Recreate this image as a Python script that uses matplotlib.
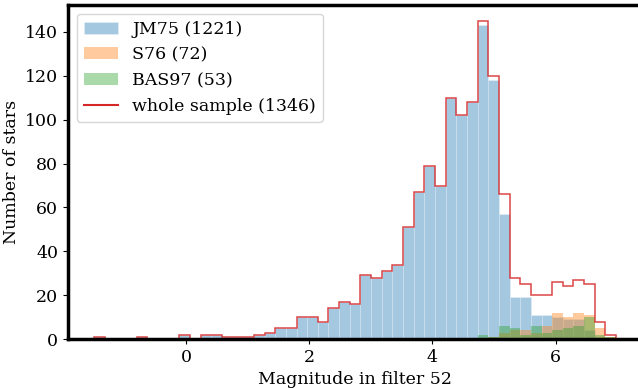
import numpy as np
import matplotlib
matplotlib.use("Agg")
import matplotlib.pyplot as plt
from matplotlib.lines import Line2D

plt.rcParams['font.family'] = 'serif'

# 49 bins from -1.49 to 6.98
edges = np.linspace(-1.49, 6.98, 50)

whole = [1, 0, 0, 0, 1, 0, 0, 0, 2, 0, 2, 2, 1, 1, 1, 2, 3, 5, 5, 10,
         10, 8, 14, 17, 16, 29, 28, 31, 34, 51, 67, 79, 70, 110, 102, 108, 145, 120, 66, 28,
         25, 20, 20, 26, 24, 27, 25, 8, 2]
s76 = [0] * 37 + [1, 3, 4, 4, 3, 6, 12, 10, 12, 11, 5, 1]
bas97 = [0] * 36 + [2, 1, 6, 5, 2, 6, 3, 4, 5, 6, 10, 2, 1]
jm75 = [w - a - b for w, a, b in zip(whole, s76, bas97)]

labels = ['JM75 (%d)' % sum(jm75), 'S76 (%d)' % sum(s76),
          'BAS97 (%d)' % sum(bas97), 'whole sample (%d)' % sum(whole)]

fig = plt.figure(figsize=(6.38, 3.88), dpi=100)
ax = fig.add_axes([0.1066, 0.126, 0.9, 0.861])

left = edges[:-1]
ax.hist(left, bins=edges, weights=jm75, alpha=0.4, color='C0',
        edgecolor='white', linewidth=0.4, label=labels[0])
ax.hist(left, bins=edges, weights=s76, alpha=0.4, color='C1', label=labels[1])
ax.hist(left, bins=edges, weights=bas97, alpha=0.4, color='C2', label=labels[2])
ax.hist(left, bins=edges, weights=whole, histtype='step', color='C3',
        alpha=0.85, linewidth=1.1)

for s in ax.spines.values():
    s.set_linewidth(2.5)
ax.tick_params(labelsize=12.5)
ax.set_xlabel('Magnitude in filter 52', fontsize=12.5)
ax.set_ylabel('Number of stars', fontsize=12.5)

h, l = ax.get_legend_handles_labels()
h.append(Line2D([], [], color='C3', linewidth=1.5))
l.append(labels[3])
ax.legend(h, l, loc='upper left', fontsize=12.5)

fig.savefig('out.png', dpi=100)
